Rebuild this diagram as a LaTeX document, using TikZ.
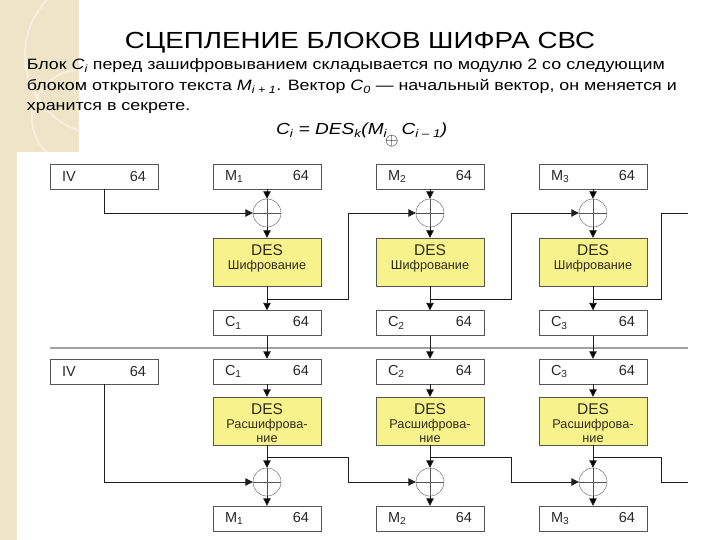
\documentclass[tikz,border=0pt]{standalone}
\usepackage{fontspec}
\setmainfont{Liberation Sans}
\newfontfamily\slidefont{Liberation Sans}[FakeStretch=1.19]
\usetikzlibrary{arrows.meta}

\definecolor{beige}{RGB}{238,229,200}
\definecolor{arcbeige}{RGB}{245,239,220}
\definecolor{desyellow}{RGB}{246,242,140}
\definecolor{boxgray}{RGB}{85,85,85}
\definecolor{txtgray}{RGB}{40,40,40}
\definecolor{txtbrown}{RGB}{50,44,28}
\definecolor{linegray}{RGB}{30,30,30}
\definecolor{sepgray}{RGB}{160,160,160}

\newcommand{\boxtxt}[2]{\makebox[84pt][s]{#1\hfill#2}}

\begin{document}
\begin{tikzpicture}[x=1pt,y=-1pt,>={Triangle[length=7.5pt,width=7.5pt]},node distance=163pt,
	blk/.style={draw=boxgray,fill=white,minimum width=108pt,minimum height=25pt,inner xsep=12pt,inner ysep=0pt,text=txtgray,font=\fontsize{14.5}{14.5}\selectfont},
	des/.style={draw=boxgray,fill=desyellow,minimum width=108pt,minimum height=48pt,inner sep=0pt},
	destxt/.style={align=center,inner sep=0pt,text=txtbrown,font=\fontsize{12.7}{14}\selectfont},
	enc/.style={des,path picture={\node[destxt] at ([yshift=4pt]path picture bounding box.center) {{\fontsize{15.5}{15.5}\selectfont DES}\\Шифрование};}},
	dec/.style={des,path picture={\node[destxt] at ([yshift=-2pt]path picture bounding box.center) {{\fontsize{15.5}{15.5}\selectfont DES}\\Расшифрова-\\ние};}},
	xor/.style={circle,draw=boxgray,minimum size=28pt,inner sep=0pt,path picture={\draw[boxgray] (path picture bounding box.north) -- (path picture bounding box.south) (path picture bounding box.west) -- (path picture bounding box.east);}},
	link/.style={draw=linegray,line width=0.9pt},
	sep/.style={draw=sepgray,line width=2pt}]

\useasboundingbox (0,0) rectangle (720,540);

% slide background
\fill[beige] (0,0) rectangle (79,152);
\fill[beige] (0,152) rectangle (17,540);
\begin{scope}
\clip (0,0) rectangle (79,152);
\draw[arcbeige,line width=2pt] (105,55) circle (80);
\draw[arcbeige,line width=2pt] (80,118) circle (48);
\end{scope}

% texts
\node[anchor=base,font=\slidefont\fontsize{23.3}{28}\selectfont] (title) at (360,48.3) {СЦЕПЛЕНИЕ БЛОКОВ ШИФРА СВС};
\node[anchor=base west,inner sep=0pt,font=\slidefont\fontsize{15}{20}\selectfont] (l1) at (26.7,70) {Блок \textit{C\textsubscript{i}} перед зашифровыванием складывается по модулю 2 со следующим};
\node[anchor=base west,inner sep=0pt,font=\slidefont\fontsize{15}{20}\selectfont] (l2) at (26.7,90.7) {блоком открытого текста \textit{M\textsubscript{i + 1}}. Вектор \textit{C\textsubscript{0}} — начальный вектор, он меняется и};
\node[anchor=base west,inner sep=0pt,font=\slidefont\fontsize{15}{20}\selectfont] (l3) at (26.7,110.7) {хранится в секрете.};
\node[anchor=base west,inner sep=0pt,font=\slidefont\fontsize{16}{20}\selectfont] (frm) at (276,135) {\textit{C\textsubscript{i} = DES\textsubscript{k}(M\textsubscript{i}}\kern-2pt\raisebox{-11pt}{$\oplus$}\kern3pt\textit{C\textsubscript{i – 1})}};

% encryption
\node[blk] (iv) at (104,176.5) {\boxtxt{IV}{64}};
\node[blk,right of=iv] (m1) {\boxtxt{M\textsubscript{1}}{64}};
\node[blk,right of=m1] (m2) {\boxtxt{M\textsubscript{2}}{64}};
\node[blk,right of=m2] (m3) {\boxtxt{M\textsubscript{3}}{64}};

\node[xor] (x1) at (267,213) {};
\node[xor,right of=x1] (x2) {};
\node[xor,right of=x2] (x3) {};

\node[enc] (e1) at (267,262) {};
\node[enc,right of=e1] (e2) {};
\node[enc,right of=e2] (e3) {};

\node[blk] (c1) at (267,323) {\boxtxt{C\textsubscript{1}}{64}};
\node[blk,right of=c1] (c2) {\boxtxt{C\textsubscript{2}}{64}};
\node[blk,right of=c2] (c3) {\boxtxt{C\textsubscript{3}}{64}};

\coordinate (b1) at (267,299);
\coordinate (b2) at (430,299);
\coordinate (b3) at (593,299);
\coordinate (o3) at (688,213);

\draw[sep] (50,348) -- (688,348);

% decryption
\node[blk] (ivd) at (104,371.5) {\boxtxt{IV}{64}};
\node[blk,right of=ivd] (cd1) {\boxtxt{C\textsubscript{1}}{64}};
\node[blk,right of=cd1] (cd2) {\boxtxt{C\textsubscript{2}}{64}};
\node[blk,right of=cd2] (cd3) {\boxtxt{C\textsubscript{3}}{64}};

\node[dec] (d1) at (267,421) {};
\node[dec,right of=d1] (d2) {};
\node[dec,right of=d2] (d3) {};

\node[xor] (xd1) at (267,482) {};
\node[xor,right of=xd1] (xd2) {};
\node[xor,right of=xd2] (xd3) {};

\node[blk] (md1) at (267,518.5) {\boxtxt{M\textsubscript{1}}{64}};
\node[blk,right of=md1] (md2) {\boxtxt{M\textsubscript{2}}{64}};
\node[blk,right of=md2] (md3) {\boxtxt{M\textsubscript{3}}{64}};

\coordinate (bd1) at (267,457);
\coordinate (bd2) at (430,457);
\coordinate (bd3) at (593,457);
\coordinate (od3) at (688,482);

\path[link,->] (m1) edge (x1) (x1) edge (e1) (e1) edge (c1) (c1) edge (cd1)
	(m2) edge (x2) (x2) edge (e2) (e2) edge (c2) (c2) edge (cd2)
	(m3) edge (x3) (x3) edge (e3) (e3) edge (c3) (c3) edge (cd3)
	(cd1) edge (d1) (d1) edge (xd1) (xd1) edge (md1)
	(cd2) edge (d2) (d2) edge (xd2) (xd2) edge (md2)
	(cd3) edge (d3) (d3) edge (xd3) (xd3) edge (md3);

\draw[link,->] (iv) |- (x1);
\draw[link,->] (b1) -- ++(81,0) |- (x2);
\draw[link,->] (b2) -- ++(81,0) |- (x3);
\draw[link] (b3) -- ++(68,0) |- (o3);

\draw[link,->] (ivd) |- (xd1);
\draw[link,->] (bd1) -- ++(81,0) |- (xd2);
\draw[link,->] (bd2) -- ++(81,0) |- (xd3);
\draw[link] (bd3) -- ++(68,0) |- (od3);

\end{tikzpicture}
\end{document}
